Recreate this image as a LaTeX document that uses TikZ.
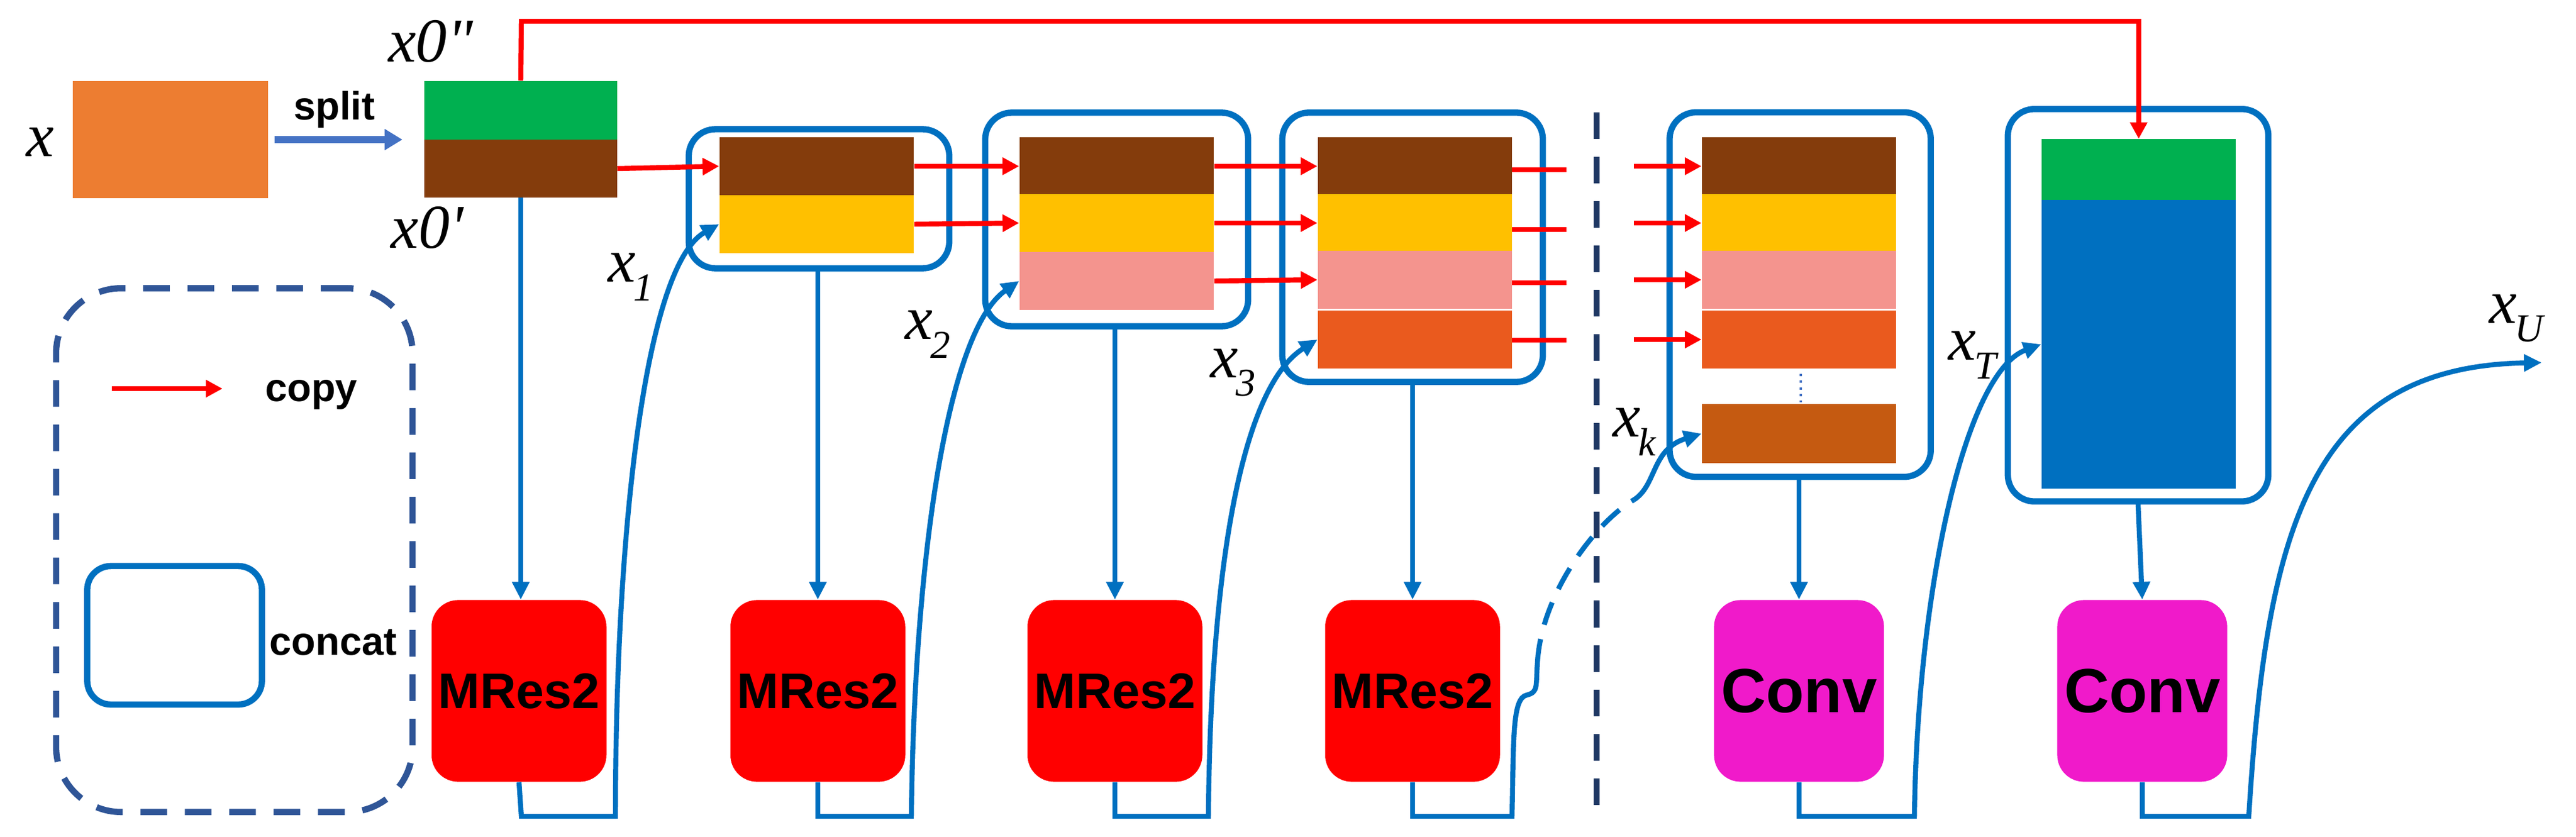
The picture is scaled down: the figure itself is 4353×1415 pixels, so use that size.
\documentclass[tikz,border=0pt]{standalone}
\usepackage{fontspec}
\setmainfont{Liberation Sans}
\newfontfamily\mathser{Liberation Serif}
\usetikzlibrary{arrows.meta}
\definecolor{cOr}{HTML}{ED7D31}\definecolor{cGr}{HTML}{00B050}\definecolor{cBr}{HTML}{843C0C}
\definecolor{cYe}{HTML}{FFC000}\definecolor{cPk}{HTML}{F4948E}\definecolor{cOR}{HTML}{EA5A1E}
\definecolor{cLb}{HTML}{C55A11}\definecolor{cBl}{HTML}{0070C0}\definecolor{cMg}{HTML}{F01ACA}
\definecolor{cLg}{HTML}{2F5597}\definecolor{cSp}{HTML}{4472C4}\definecolor{cNv}{HTML}{1F3864}
\tikzset{
 bar/.style={draw=none,minimum width=3.28cm,minimum height=0.98cm,inner sep=0},
 cat/.style={draw=cBl,line width=3pt,rounded corners=0.45cm,inner sep=0},
 blk/.style={draw=none,rounded corners=0.45cm,minimum width=2.62cm,minimum height=3.07cm,font=\bfseries\fontsize{24}{24}\selectfont},
 rd/.style={draw=red,line width=2.4pt,-{Triangle[length=0.28cm,width=0.28cm]}},
 rs/.style={draw=red,line width=2.4pt},
 bl/.style={draw=cBl,line width=2.4pt,-{Triangle[length=0.3cm,width=0.28cm]}},
 fb/.style={draw=cBl,line width=2.4pt,-{Triangle[length=0.3cm,width=0.28cm]}},
 lab/.style={font=\mathser\itshape\fontsize{30}{30}\selectfont},
 sub/.style={font=\mathser\itshape\fontsize{19}{19}\selectfont},
}
\begin{document}
\begin{tikzpicture}[x=0.01cm,y=-0.01cm]
\useasboundingbox (0,0) rectangle (4353,1415);
% input
\node[bar,fill=cOr,minimum width=3.30cm,minimum height=1.97cm] (x) at (288,236) {};
\node[lab] (xl) at (68,240) {x};
\node[bar,fill=cGr,minimum width=3.25cm,minimum height=1.0cm] (g0) at (880,187) {};
\node[bar,fill=cBr,minimum width=3.25cm,minimum height=0.97cm] (b0) at (880,285) {};
\draw[draw=cSp,line width=3.2pt,-{Triangle[length=0.3cm,width=0.34cm]}] (x.east)++(10,0) -- (680,236);
\node[font=\bfseries\fontsize{19}{19}\selectfont] (sp) at (565,185) {split};
\node[lab] at (728,70) {x0"};
\node[lab] at (722,385) {x0'};
% block 1
\node[bar,fill=cBr] (a1) at (1380,281) {};
\node[bar,fill=cYe] (a2) at (1380,379) {};
\node[cat,minimum width=4.4cm,minimum height=2.35cm] (c1) at (1384,336) {};
% block 2
\node[bar,fill=cBr] (p1) at (1887,281) {};
\node[bar,fill=cYe] (p2) at (1887,377) {};
\node[bar,fill=cPk] (p3) at (1887,475) {};
\node[cat,minimum width=4.44cm,minimum height=3.61cm] (c2) at (1887,371) {};
% block 3
\node[bar,fill=cBr] (q1) at (2391,281) {};
\node[bar,fill=cYe] (q2) at (2391,377) {};
\node[bar,fill=cPk] (q3) at (2391,473) {};
\node[bar,fill=cOR] (q4) at (2391,574) {};
\node[cat,minimum width=4.4cm,minimum height=4.55cm] (c3) at (2387,418) {};
% block k
\node[bar,fill=cBr] (k1) at (3040,281) {};
\node[bar,fill=cYe] (k2) at (3040,377) {};
\node[bar,fill=cPk] (k3) at (3040,473) {};
\node[bar,fill=cOR] (k4) at (3040,574) {};
\node[bar,fill=cLb,minimum height=1.0cm] (k5) at (3040,733) {};
\node[cat,minimum width=4.41cm,minimum height=6.16cm] (ck) at (3042,498) {};
\draw[cSp,line width=1.2pt,dotted] (3043,632) -- (3043,680);
% block T
\node[bar,fill=cGr,minimum height=1.03cm] (t1) at (3614,287) {};
\node[bar,fill=cBl,minimum height=4.88cm] (t2) at (3614,582) {};
\node[cat,minimum width=4.4cm,minimum height=6.63cm] (ct) at (3613,516) {};
% vertical dashed divider
\coordinate (dv1) at (2698,190); \coordinate (dv2) at (2698,1376);
\draw[cNv,line width=3pt,dash pattern=on 0.45cm off 0.3cm] (dv1) -- (dv2);
% red copy arrows
\draw[rd] (b0.east) -- (a1.west);
\draw[rd] (a1.east) -- (p1.west);
\draw[rd] (a2.east) -- (p2.west);
\draw[rd] (p1.east) -- (q1.west);
\draw[rd] (p2.east) -- (q2.west);
\draw[rd] (p3.east) -- (q3.west);
\foreach \n/\y in {q1/287,q2/388,q3/478,q4/575}{
 \coordinate (s\n) at (2647,\y);
 \draw[rs] (2555,\y) -- (s\n);
}
\foreach \n in {k1,k2,k3,k4}{
 \coordinate (e\n) at (2761,0);
 \draw[rd] (\n.west -| ek1) -- (\n.west);
}
\coordinate (tp) at (881,36);
\draw[rd] (g0.north) -- (tp) -| (t1.north);
% processing blocks
\node[blk,fill=red] (m1) at (877,1168) {MRes2};
\node[blk,fill=red] (m2) at (1382,1168) {MRes2};
\node[blk,fill=red] (m3) at (1884,1168) {MRes2};
\node[blk,fill=red] (m4) at (2387,1168) {MRes2};
\node[blk,fill=cMg,font=\bfseries\fontsize{30}{30}\selectfont] (v1) at (3040,1168) {Conv};
\node[blk,fill=cMg,font=\bfseries\fontsize{30}{30}\selectfont] (v2) at (3620,1168) {Conv};
% down arrows
\draw[bl] (b0.south) -- (b0.south |- m1.north);
\draw[bl] (c1.south -| m2) -- (m2.north);
\draw[bl] (c2.south -| m3) -- (m3.north);
\draw[bl] (c3.south -| m4) -- (m4.north);
\draw[bl] (ck.south -| v1) -- (v1.north);
\draw[bl] (ct.south) -- (v2.north);
% feedback curves
\draw[fb] (m1.south) -- (881,1380) -- (1040,1380) .. controls (1040,900) and (1090,450) .. (a2.west);
\draw[fb] (m2.south) -- (1382,1380) -- (1540,1380) .. controls (1545,950) and (1600,560) .. (p3.west);
\draw[fb] (m3.south) -- (1884,1380) -- (2042,1380) .. controls (2045,1000) and (2090,660) .. (q4.west);
\draw[draw=cBl,line width=2.4pt] (m4.south) -- (2387,1380) -- (2555,1380) .. controls (2558,1250) and (2555,1180) .. (2580,1175) .. controls (2600,1170) and (2595,1160) .. (2598,1120);
\draw[draw=cBl,line width=2.4pt,dash pattern=on 0.4cm off 0.25cm] (2598,1120) .. controls (2605,1000) and (2700,880) .. (2761,845);
\draw[fb] (2761,845) .. controls (2800,820) and (2790,760) .. (k5.west);
\draw[fb] (v1.south) -- (3040,1380) -- (3235,1380) .. controls (3240,1000) and (3320,630) .. (t2.west);
\coordinate (xu) at (4295,613);
\draw[fb] (v2.south) -- (3620,1380) -- (3800,1380) .. controls (3830,900) and (3900,620) .. (xu);
% labels
\node[lab] at (1066,468) {x\kern-1pt\raisebox{-9pt}{\fontsize{19}{19}\selectfont 1}};
\node[lab] at (1568,565) {x\kern-1pt\raisebox{-9pt}{\fontsize{19}{19}\selectfont 2}};
\node[lab] at (2084,630) {x\kern-1pt\raisebox{-9pt}{\fontsize{19}{19}\selectfont 3}};
\node[lab] at (2762,730) {x\kern-1pt\raisebox{-9pt}{\fontsize{19}{19}\selectfont k}};
\node[lab] at (3333,600) {x\kern-1pt\raisebox{-9pt}{\fontsize{19}{19}\selectfont T}};
\node[lab] at (4252,538) {x\kern-1pt\raisebox{-9pt}{\fontsize{19}{19}\selectfont U}};
% legend
\node[draw=cLg,line width=3pt,dash pattern=on 0.45cm off 0.3cm,rounded corners=1.1cm,minimum width=6.02cm,minimum height=8.85cm] (lg) at (396,930) {};
\coordinate (cp1) at (189,657); \coordinate (cp2) at (376,657);
\draw[rd] (cp1) -- (cp2);
\node[font=\bfseries\fontsize{19}{19}\selectfont] (cpl) at (526,667) {copy};
\node[cat,minimum width=2.95cm,minimum height=2.34cm,rounded corners=0.4cm] (lc) at (295,1074) {};
\node[font=\bfseries\fontsize{19}{19}\selectfont] (cl) at (563,1086) {concat};
\end{tikzpicture}
\end{document}
